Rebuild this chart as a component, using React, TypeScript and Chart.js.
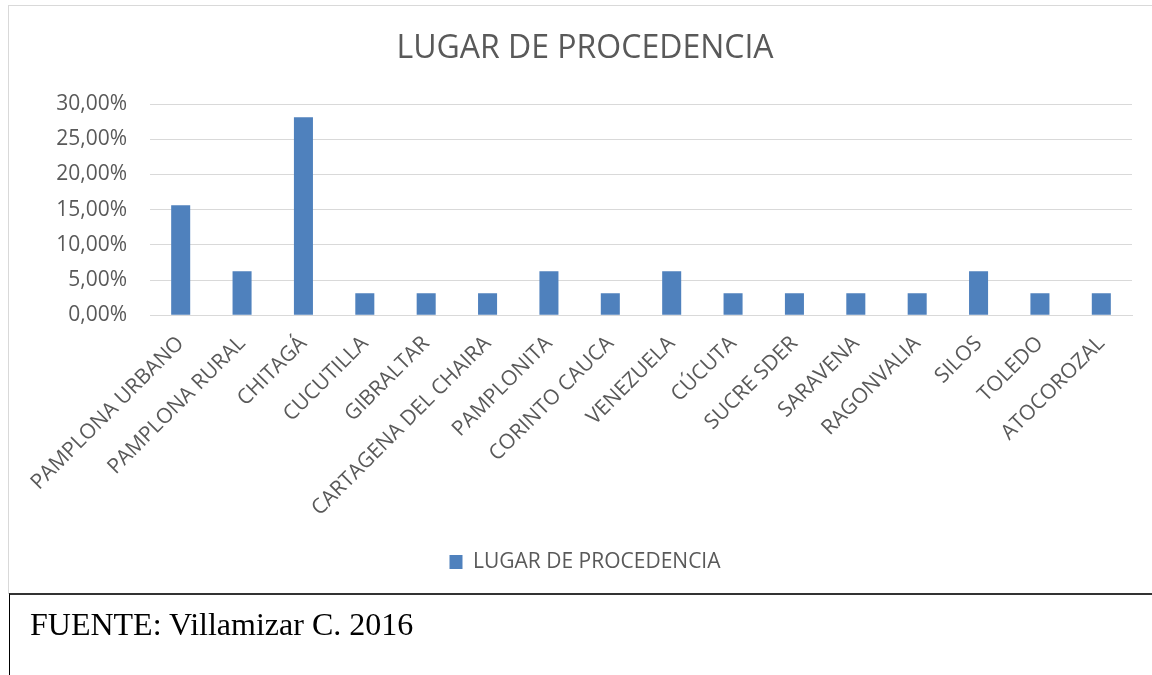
import React, { useEffect, useRef } from "react";
import { Chart, registerables } from "chart.js";

Chart.register(...registerables);

const categories = [
  "PAMPLONA URBANO",
  "PAMPLONA RURAL",
  "CHITAGÁ",
  "CUCUTILLA",
  "GIBRALTAR",
  "CARTAGENA DEL CHAIRA",
  "PAMPLONITA",
  "CORINTO CAUCA",
  "VENEZUELA",
  "CÚCUTA",
  "SUCRE SDER",
  "SARAVENA",
  "RAGONVALIA",
  "SILOS",
  "TOLEDO",
  "ATOCOROZAL",
];

const seriesName = "LUGAR DE PROCEDENCIA";
const values = [
  0.1563, 0.0625, 0.2813, 0.0313, 0.0313, 0.0313, 0.0625, 0.0313,
  0.0625, 0.0313, 0.0313, 0.0313, 0.0313, 0.0625, 0.0313, 0.0313,
];

const yMin = 0;
const yMax = 0.3;
const yStep = 0.05;

const FONT = "'Open Sans', sans-serif";
const TEXT = "#595959";

function fmtPct(v: number) {
  return (v * 100).toFixed(2).replace(".", ",") + "%";
}

export default function App() {
  const ref = useRef<HTMLCanvasElement | null>(null);

  useEffect(() => {
    if (!ref.current) return;
    const chart = new Chart(ref.current, {
      type: "bar",
      data: {
        labels: categories,
        datasets: [
          {
            label: seriesName,
            data: values,
            backgroundColor: "#4f81bd",
            borderColor: "#4f81bd",
            borderWidth: 0,
            barPercentage: 0.31,
            categoryPercentage: 1,
          },
        ],
      },
      options: {
        responsive: false,
        animation: false,
        layout: { padding: { left: 29, right: 29, top: 0, bottom: 11.4 } },
        plugins: {
          title: {
            display: true,
            text: "LUGAR DE PROCEDENCIA",
            color: TEXT,
            font: { family: FONT, size: 32, weight: "normal" },
            padding: { top: 23.8, bottom: 35.8 },
          },
          legend: {
            position: "bottom",
            labels: {
              color: TEXT,
              font: { family: FONT, size: 21 },
              boxWidth: 13,
              boxHeight: 14,
              padding: 10,
            },
          },
          tooltip: { enabled: false },
        },
        scales: {
          x: {
            grid: { display: false },
            border: { display: true, color: "#d9d9d9", width: 1 },
            ticks: {
              color: TEXT,
              font: { family: FONT, size: 21 },
              maxRotation: 45,
              minRotation: 45,
              autoSkip: false,
              padding: 8,
            },
            afterFit: (s: any) => {
              s.height = 226.4;
            },
          },
          y: {
            min: yMin,
            max: yMax,
            grid: { color: "#d9d9d9", lineWidth: 1, drawTicks: false },
            border: { display: false },
            ticks: {
              stepSize: yStep,
              color: TEXT,
              font: { family: FONT, size: 21 },
              padding: 23,
              callback: (v: any) => fmtPct(Number(v)),
            },
            afterFit: (s: any) => {
              s.width = 112;
            },
          },
        },
      },
    });
    return () => chart.destroy();
  }, []);

  return (
    <div style={{ position: "fixed", left: 0, top: 0, width: 1152, height: 675, background: "#fff", overflow: "hidden" }}>
      <div
        style={{
          position: "absolute",
          left: 8,
          top: 5,
          width: 1200,
          height: 589,
          border: "1px solid #d9d9d9",
          boxSizing: "border-box",
        }}
      />
      <canvas
        ref={ref}
        width={1152}
        height={588}
        style={{ position: "absolute", left: 9, top: 6, width: 1152, height: 588 }}
      />
      <div
        style={{
          position: "absolute",
          left: 9,
          top: 593,
          width: 1200,
          height: 120,
          borderTop: "2px solid #333",
          borderLeft: "1px solid #000",
          boxSizing: "border-box",
        }}
      />
      <div
        style={{
          position: "absolute",
          left: 30,
          top: 608,
          fontFamily: "'Liberation Serif', 'Times New Roman', serif",
          fontSize: 32,
          color: "#000",
          whiteSpace: "nowrap",
          lineHeight: "32px",
        }}
      >
        FUENTE: Villamizar C. 2016
      </div>
    </div>
  );
}
